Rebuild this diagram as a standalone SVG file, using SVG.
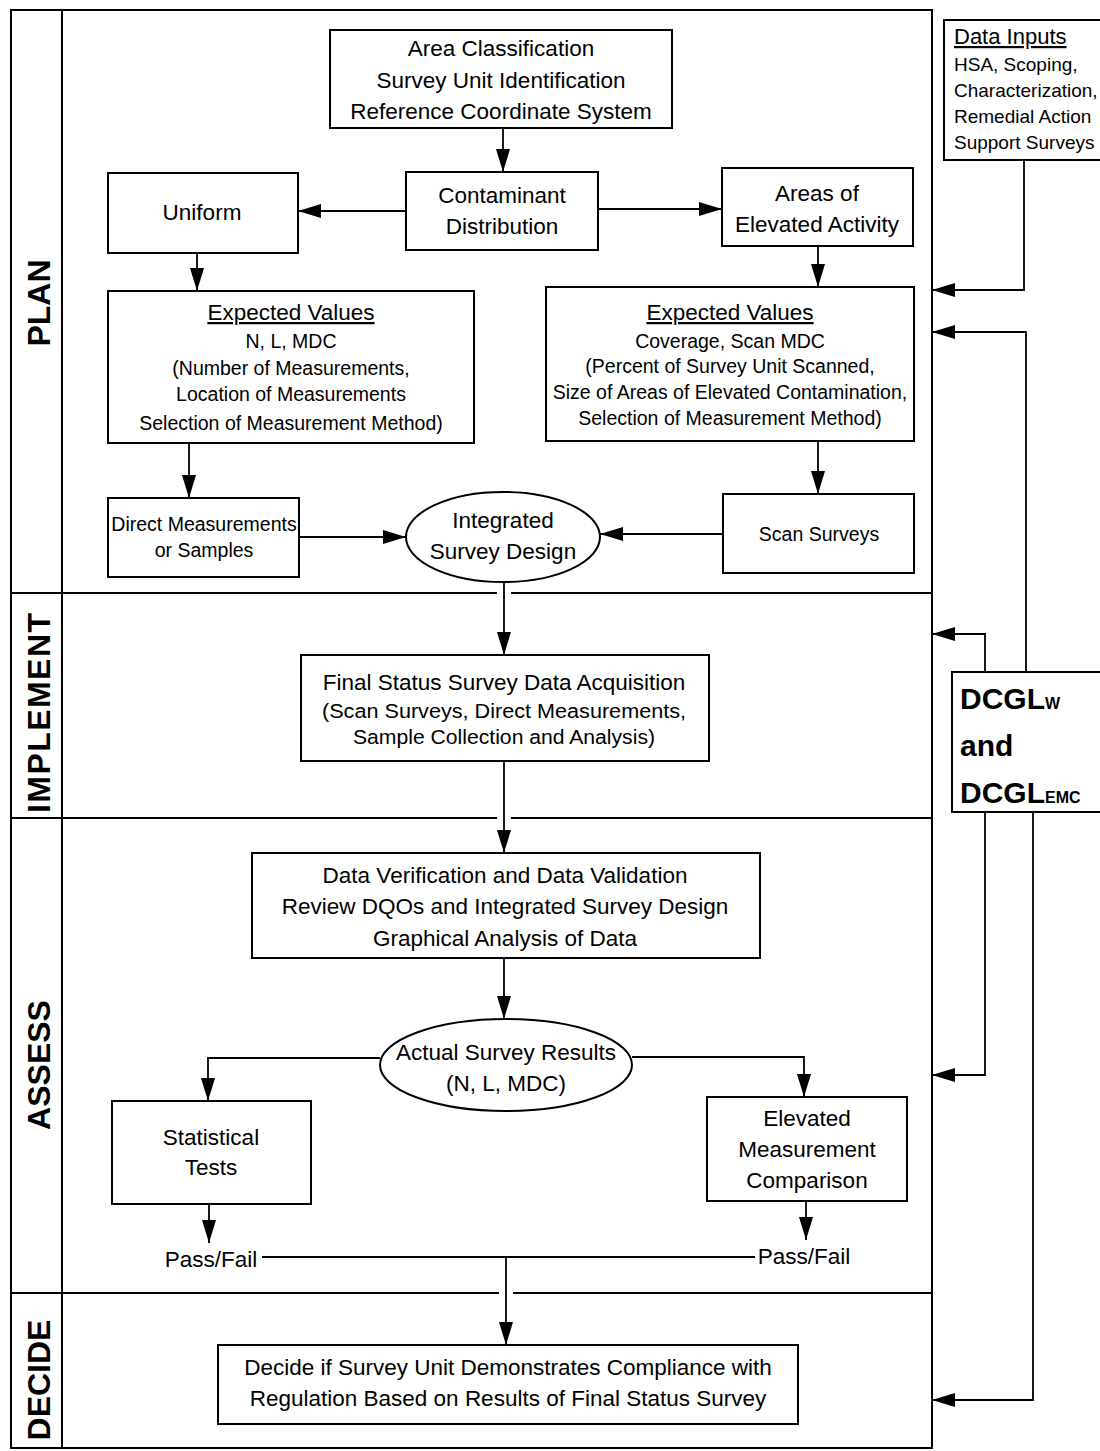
<svg xmlns="http://www.w3.org/2000/svg" width="1100" height="1451" viewBox="0 0 1100 1451">
<style>
.b{fill:#fff;stroke:#000;stroke-width:2}
.f{fill:none;stroke:#000;stroke-width:2}
.c{fill:none;stroke:#000;stroke-width:1.8}
text{font-family:"Liberation Sans",Arial,sans-serif;fill:#000}
.t{font-size:22.5px;text-anchor:middle}
.s{font-size:19.5px;text-anchor:middle}
.l{font-size:19px}
.lane{font-size:32px;font-weight:bold;text-anchor:middle}
.dc{font-size:30px;font-weight:bold}
.u{text-decoration:underline}
</style>
<defs>
<marker id="a" markerUnits="userSpaceOnUse" markerWidth="26" markerHeight="16" refX="23" refY="7" orient="auto">
<path d="M0,0 L23,7 L0,14 z" fill="#000"/>
</marker>
</defs>
<rect width="1100" height="1451" fill="#fff"/>
<g id="frame">
<rect class="f" x="11" y="10" width="921" height="1438"/>
<line class="f" x1="62" y1="10" x2="62" y2="1448"/>
<path class="f" d="M11,593 H497 M511,593 H932 M11,818 H497 M511,818 H932 M11,1293 H499 M513,1293 H932"/>
<text class="lane" transform="rotate(-90 50 303)" x="50" y="303">PLAN</text>
<text class="lane" transform="rotate(-90 50 713)" x="50" y="713" textLength="200" lengthAdjust="spacing">IMPLEMENT</text>
<text class="lane" transform="rotate(-90 50 1065)" x="50" y="1065">ASSESS</text>
<text class="lane" transform="rotate(-90 50 1380)" x="50" y="1380">DECIDE</text>
</g>
<g id="connectors">
<line class="c" x1="503" y1="128" x2="503" y2="172" marker-end="url(#a)"/>
<line class="c" x1="406" y1="211" x2="298" y2="211" marker-end="url(#a)"/>
<line class="c" x1="598" y1="209" x2="722" y2="209" marker-end="url(#a)"/>
<line class="c" x1="197" y1="253" x2="197" y2="291" marker-end="url(#a)"/>
<line class="c" x1="818" y1="246" x2="818" y2="287" marker-end="url(#a)"/>
<line class="c" x1="189" y1="443" x2="189" y2="498" marker-end="url(#a)"/>
<line class="c" x1="818" y1="441" x2="818" y2="494" marker-end="url(#a)"/>
<line class="c" x1="299" y1="537" x2="406" y2="537" marker-end="url(#a)"/>
<line class="c" x1="723" y1="534" x2="600" y2="534" marker-end="url(#a)"/>
<line class="c" x1="504" y1="582" x2="504" y2="655" marker-end="url(#a)"/>
<line class="c" x1="504" y1="761" x2="504" y2="853" marker-end="url(#a)"/>
<line class="c" x1="504" y1="958" x2="504" y2="1019" marker-end="url(#a)"/>
<path class="c" d="M380,1058 H208 V1101" marker-end="url(#a)"/>
<path class="c" d="M632,1057 H804 V1097" marker-end="url(#a)"/>
<line class="c" x1="209" y1="1204" x2="209" y2="1243" marker-end="url(#a)"/>
<line class="c" x1="806" y1="1201" x2="806" y2="1240" marker-end="url(#a)"/>
<line class="c" x1="262" y1="1257" x2="755" y2="1257"/>
<line class="c" x1="506" y1="1257" x2="506" y2="1345" marker-end="url(#a)"/>
<path class="c" d="M1024,160 V290 H932" marker-end="url(#a)"/>
<path class="c" d="M1026,672 V332 H932" marker-end="url(#a)"/>
<path class="c" d="M985,672 V634 H932" marker-end="url(#a)"/>
<path class="c" d="M985,812 V1075 H932" marker-end="url(#a)"/>
<path class="c" d="M1033,812 V1400 H932" marker-end="url(#a)"/>
</g>
<g id="area">
<rect class="b" x="330" y="30" width="342" height="98"/>
<text class="t" x="501" y="56">Area Classification</text>
<text class="t" x="501" y="88">Survey Unit Identification</text>
<text class="t" x="501" y="119">Reference Coordinate System</text>
</g>
<g id="contaminant">
<rect class="b" x="406" y="172" width="192" height="78"/>
<text class="t" x="502" y="203">Contaminant</text>
<text class="t" x="502" y="234">Distribution</text>
</g>
<g id="uniform">
<rect class="b" x="108" y="173" width="190" height="80"/>
<text class="t" x="202" y="220">Uniform</text>
</g>
<g id="elevated-activity">
<rect class="b" x="722" y="168" width="191" height="78"/>
<text class="t" x="817" y="201">Areas of</text>
<text class="t" x="817" y="232">Elevated Activity</text>
</g>
<g id="expected-left">
<rect class="b" x="108" y="291" width="366" height="152"/>
<text class="t u" x="291" y="320">Expected Values</text>
<text class="s" x="291" y="348">N, L, MDC</text>
<text class="s" x="291" y="375">(Number of Measurements,</text>
<text class="s" x="291" y="401">Location of Measurements</text>
<text class="s" x="291" y="430">Selection of Measurement Method)</text>
</g>
<g id="expected-right">
<rect class="b" x="546" y="287" width="368" height="154"/>
<text class="t u" x="730" y="320">Expected Values</text>
<text class="s" x="730" y="348">Coverage, Scan MDC</text>
<text class="s" x="730" y="373">(Percent of Survey Unit Scanned,</text>
<text class="s" x="730" y="399">Size of Areas of Elevated Contamination,</text>
<text class="s" x="730" y="425">Selection of Measurement Method)</text>
</g>
<g id="direct">
<rect class="b" x="108" y="498" width="191" height="79"/>
<text class="s" x="204" y="531">Direct Measurements</text>
<text class="s" x="204" y="557">or Samples</text>
</g>
<g id="integrated">
<ellipse class="b" cx="503" cy="537" rx="97" ry="45"/>
<text class="t" x="503" y="528">Integrated</text>
<text class="t" x="503" y="559">Survey Design</text>
</g>
<g id="scan">
<rect class="b" x="723" y="494" width="191" height="79"/>
<text class="s" x="819" y="541">Scan Surveys</text>
</g>
<g id="final-status">
<rect class="b" x="301" y="655" width="408" height="106"/>
<text class="t" x="504" y="690">Final Status Survey Data Acquisition</text>
<text class="s" x="504" y="718" textLength="364" lengthAdjust="spacingAndGlyphs">(Scan Surveys, Direct Measurements,</text>
<text class="s" x="504" y="744" textLength="302" lengthAdjust="spacingAndGlyphs">Sample Collection and Analysis)</text>
</g>
<g id="verification">
<rect class="b" x="252" y="853" width="508" height="105"/>
<text class="t" x="505" y="883">Data Verification and Data Validation</text>
<text class="t" x="505" y="914">Review DQOs and Integrated Survey Design</text>
<text class="t" x="505" y="946">Graphical Analysis of Data</text>
</g>
<g id="actual">
<ellipse class="b" cx="506" cy="1065" rx="126" ry="46"/>
<text class="t" x="506" y="1060">Actual Survey Results</text>
<text class="t" x="506" y="1091">(N, L, MDC)</text>
</g>
<g id="statistical">
<rect class="b" x="112" y="1101" width="199" height="103"/>
<text class="t" x="211" y="1145">Statistical</text>
<text class="t" x="211" y="1175">Tests</text>
</g>
<g id="elevated-comparison">
<rect class="b" x="707" y="1097" width="200" height="104"/>
<text class="t" x="807" y="1126">Elevated</text>
<text class="t" x="807" y="1157">Measurement</text>
<text class="t" x="807" y="1188">Comparison</text>
</g>
<g id="passfail-left">
<text class="t" x="211" y="1267">Pass/Fail</text>
</g>
<g id="passfail-right">
<text class="t" x="804" y="1264">Pass/Fail</text>
</g>
<g id="decide">
<rect class="b" x="218" y="1345" width="580" height="79"/>
<text class="t" x="508" y="1375">Decide if Survey Unit Demonstrates Compliance with</text>
<text class="t" x="508" y="1406">Regulation Based on Results of Final Status Survey</text>
</g>
<g id="data-inputs">
<rect class="b" x="944" y="20" width="170" height="140"/>
<text class="l u" x="954" y="44" style="font-size:22px">Data Inputs</text>
<text class="l" x="954" y="71">HSA, Scoping,</text>
<text class="l" x="954" y="97">Characterization,</text>
<text class="l" x="954" y="123">Remedial Action</text>
<text class="l" x="954" y="149">Support Surveys</text>
</g>
<g id="dcgl">
<rect class="b" x="952" y="672" width="160" height="140"/>
<text class="dc" x="960" y="709">DCGL<tspan style="font-size:16px">W</tspan></text>
<text class="dc" x="960" y="756">and</text>
<text class="dc" x="960" y="803">DCGL<tspan style="font-size:16px">EMC</tspan></text>
</g>
</svg>
